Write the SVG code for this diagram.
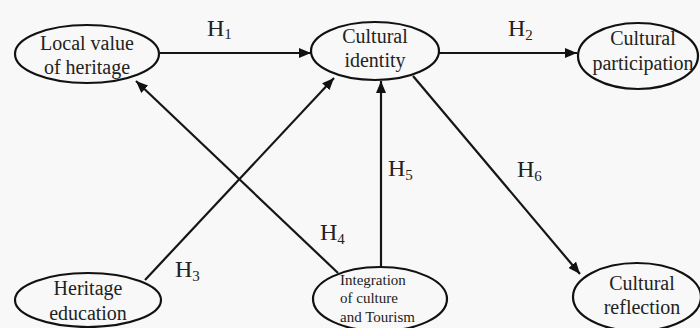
<svg xmlns="http://www.w3.org/2000/svg" width="700" height="328" viewBox="0 0 700 328">
<defs>
<style>
.node ellipse{fill:none;stroke:#111;stroke-width:2.2}
.node text{font-family:"Liberation Serif","Times New Roman",serif;font-size:20px;fill:#222;text-anchor:middle}
.node text.small{font-size:15px;text-anchor:start}
.edges line{stroke:#151515;stroke-width:2.2;marker-end:url(#arr)}
.lbl{font-family:"Liberation Serif","Times New Roman",serif;font-size:24px;fill:#222}
.lbl tspan{font-size:15px}
</style>
<marker id="arr" viewBox="0 0 12 10" refX="12" refY="5" markerWidth="12" markerHeight="10" markerUnits="userSpaceOnUse" orient="auto">
<path d="M0,0 L12,5 L0,10 Z" fill="#111"/>
</marker>
</defs>
<rect width="700" height="328" fill="#f8f8f8"/>
<g class="edges">
<line id="e1" x1="160" y1="53" x2="311" y2="53"/>
<line id="e2" x1="439" y1="53" x2="577" y2="53"/>
<line id="e3" x1="145" y1="280" x2="334" y2="78"/>
<line id="e4" x1="338" y1="273" x2="136" y2="81"/>
<line id="e5" x1="381" y1="267" x2="381" y2="81"/>
<line id="e6" x1="413" y1="76" x2="580" y2="274"/>
</g>
<g id="labels">
<text class="lbl" x="207" y="35.5">H<tspan dy="3.5">1</tspan></text>
<text class="lbl" x="508" y="36">H<tspan dy="3.5">2</tspan></text>
<text class="lbl" x="175" y="277">H<tspan dy="3.5">3</tspan></text>
<text class="lbl" x="320" y="240">H<tspan dy="3.5">4</tspan></text>
<text class="lbl" x="388" y="176">H<tspan dy="3.5">5</tspan></text>
<text class="lbl" x="517" y="177">H<tspan dy="3.5">6</tspan></text>
</g>
<g id="local-value" class="node">
<ellipse cx="87" cy="54" rx="72" ry="29"/>
<text x="87" y="50">Local value</text>
<text x="87" y="74">of heritage</text>
</g>
<g id="cultural-identity" class="node">
<ellipse cx="375" cy="51" rx="64" ry="29"/>
<text x="375" y="43">Cultural</text>
<text x="375" y="67">identity</text>
</g>
<g id="cultural-participation" class="node">
<ellipse cx="638" cy="56" rx="60" ry="33"/>
<text x="643" y="45">Cultural</text>
<text x="643" y="70">participation</text>
</g>
<g id="heritage-education" class="node">
<ellipse cx="88" cy="300" rx="73" ry="27"/>
<text x="88" y="295">Heritage</text>
<text x="88" y="320">education</text>
</g>
<g id="integration" class="node">
<ellipse cx="380" cy="299" rx="67" ry="32"/>
<text class="small" x="340" y="285">Integration</text>
<text class="small" x="340" y="303">of culture</text>
<text class="small" x="340" y="322">and Tourism</text>
</g>
<g id="cultural-reflection" class="node">
<ellipse cx="637" cy="297" rx="64" ry="34"/>
<text x="642" y="290">Cultural</text>
<text x="642" y="314">reflection</text>
</g>
</svg>
